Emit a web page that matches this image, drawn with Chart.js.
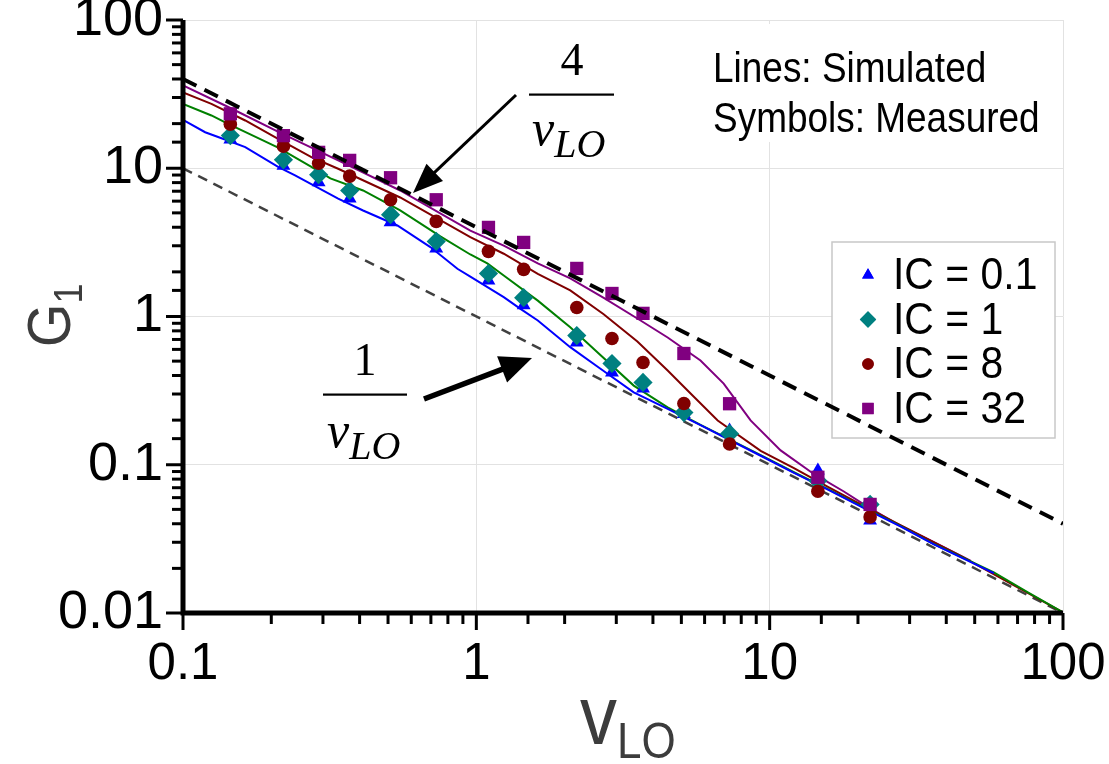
<!DOCTYPE html>
<html>
<head>
<meta charset="utf-8">
<script src="https://cdn.jsdelivr.net/npm/chart.js@4.4.1/dist/chart.umd.min.js"></script>
<style>
  html, body { margin: 0; padding: 0; background: #fff; }
  #plot { display: block; }
</style>
</head>
<body>
<canvas id="plot" width="1109" height="764"></canvas>
<script>
// ── Measured points (symbols), shared LO amplitudes ─────────
const vMeas    = [0.145, 0.22, 0.29, 0.37, 0.51, 0.73, 1.1, 1.45, 2.2, 2.9, 3.7, 5.1, 7.3, 14.6, 22];
const measIC01 = [15.6, 10.4, 8.06, 6.25, 4.33, 2.88, 1.75, 1.19, 0.668, 0.419, 0.327, 0.22, 0.17, 0.0914, 0.042];
const measIC1  = [16.6, 11.4, 9.04, 7.08, 4.86, 3.21, 1.95, 1.34, 0.744, 0.482, 0.359, 0.225, 0.162, 0.078, 0.054];
const measIC8  = [19.8, 14.1, 10.8, 8.85, 6.13, 4.38, 2.75, 2.08, 1.15, 0.711, 0.489, 0.259, 0.138, 0.0663, 0.0445];
const measIC32 = [23.3, 16.6, 12.8, 11.3, 8.63, 6.13, 3.99, 3.16, 2.11, 1.43, 1.05, 0.563, 0.258, 0.0823, 0.054];

// ── Simulated curves (lines) ─────────────────────────────────
const vSimIC01 = [0.1, 0.119, 0.142, 0.163, 0.211, 0.241, 0.338, 0.411, 0.538, 0.697, 0.862, 0.954, 1.24, 1.41, 1.62, 2.09, 2.65, 3.44, 4.49, 5.81, 9.32, 12.1, 15.8, 21.6, 28, 36.3, 58.1];
const gSimIC01 = [21.2, 17.5, 15.4, 13.9, 10.2, 8.94, 6.23, 5.19, 4.11, 2.94, 2.1, 1.86, 1.35, 1.13, 0.94, 0.621, 0.444, 0.308, 0.238, 0.185, 0.115, 0.088, 0.068, 0.0495, 0.0382, 0.029, 0.0186];

const vSimIC1 = [0.1, 0.125, 0.142, 0.185, 0.211, 0.274, 0.318, 0.411, 0.55, 0.754, 0.954, 1.09, 1.24, 1.62, 2.09, 2.51, 3.44, 4.49, 5.81, 9.32, 12.1, 15.8, 21.6, 28, 36.3, 58.1, 75.9, 100];
const gSimIC1 = [27.2, 22.7, 20.0, 15.6, 13.8, 10.2, 8.54, 7.08, 5.19, 3.47, 2.62, 2.28, 1.89, 1.28, 0.847, 0.605, 0.342, 0.244, 0.186, 0.116, 0.089, 0.0685, 0.05, 0.0385, 0.0292, 0.0188, 0.0138, 0.0101];

const vSimIC8 = [0.1, 0.125, 0.163, 0.211, 0.274, 0.338, 0.55, 0.954, 1.24, 1.62, 2.09, 2.71, 3.54, 4.49, 5.25, 6.65, 9.32, 12.1, 15.8, 21.6, 28, 44.9, 66.4, 100];
const gSimIC8 = [32.5, 27.2, 21.0, 15.8, 11.9, 9.92, 6.35, 3.43, 2.65, 1.94, 1.5, 1.04, 0.678, 0.432, 0.317, 0.199, 0.124, 0.095, 0.071, 0.051, 0.039, 0.0242, 0.0158, 0.0101];

const vSimIC32 = [0.1, 0.145, 0.214, 0.338, 0.55, 0.954, 1.24, 1.62, 2.09, 2.71, 3.63, 4.49, 5.81, 6.97, 8.61, 10.9, 14.1, 17.9, 21.6, 26.5, 36.3, 48.5];
const gSimIC32 = [36.2, 25.5, 17.4, 11.3, 7.08, 3.8, 3.01, 2.28, 1.81, 1.34, 0.94, 0.722, 0.505, 0.353, 0.199, 0.125, 0.087, 0.066, 0.052, 0.041, 0.03, 0.0225];

// ── Reference asymptotes 4/vLO and 1/vLO (end points) ───────
const vRef  = [0.1, 100];
const gRef4 = [40, 0.04];
const gRef1 = [10, 0.01];

const xTickLabels  = ['0.1', '1', '10', '100'];
const yTickLabels  = ['0.01', '0.1', '1', '10', '100'];
const legendLabels = ['IC = 0.1', 'IC = 1', 'IC = 8', 'IC = 32'];

const pts = (xs, ys) => xs.map((x, i) => ({ x, y: ys[i] }));
const isDecade = (v) => Math.abs(Math.log10(v) - Math.round(Math.log10(v))) < 1e-6;

const SANS  = '"Liberation Sans", Arial, sans-serif';
const SERIF = '"Liberation Serif", "Times New Roman", serif';

function simLine(data, color, order) {
  return { type: 'line', data, borderColor: color, borderWidth: 2, pointRadius: 0,
           fill: false, tension: 0, order };
}
function measured(label, data, style, radius, color, order) {
  return { type: 'scatter', label, data, pointStyle: style, pointRadius: radius,
           pointHoverRadius: radius, backgroundColor: color, borderColor: color,
           pointBorderWidth: 0, showLine: false, order };
}

const datasets = [
  { type: 'line', data: pts(vRef, gRef4), borderColor: '#000', borderWidth: 4,
    borderDash: [15, 9], pointRadius: 0, order: 0 },
  measured(legendLabels[3], pts(vMeas, measIC32), 'rect',     9.4, '#800080', 1),
  measured(legendLabels[2], pts(vMeas, measIC8),  'circle',   6.8, '#800000', 2),
  measured(legendLabels[1], pts(vMeas, measIC1),  'rectRot',  9.6, '#008080', 3),
  measured(legendLabels[0], pts(vMeas, measIC01), 'triangle', 8.0, '#0000ff', 4),
  simLine(pts(vSimIC01, gSimIC01), '#0000ff', 5),
  simLine(pts(vSimIC1,  gSimIC1),  '#008000', 6),
  simLine(pts(vSimIC8,  gSimIC8),  '#800000', 7),
  simLine(pts(vSimIC32, gSimIC32), '#800080', 8),
  { type: 'line', data: pts(vRef, gRef1), borderColor: '#404040', borderWidth: 2.5,
    borderDash: [10, 7], pointRadius: 0, order: 9 },
];

// text with a subscript, optional horizontal squeeze
function subText(ctx, x, y, main, sub, mainFont, subFont, drop, squeeze = 1) {
  ctx.save();
  ctx.translate(x, y);
  ctx.scale(squeeze, 1);
  ctx.textAlign = 'left';
  ctx.textBaseline = 'alphabetic';
  ctx.font = mainFont;
  ctx.fillText(main, 0, 0);
  const w = ctx.measureText(main).width;
  ctx.font = subFont;
  ctx.fillText(sub, w, drop);
  ctx.restore();
}

function arrow(ctx, x1, y1, x2, y2, width, headLen, headHalf) {
  const a = Math.atan2(y2 - y1, x2 - x1);
  const bx = x2 - Math.cos(a) * headLen, by = y2 - Math.sin(a) * headLen;
  ctx.save();
  ctx.strokeStyle = '#000';
  ctx.fillStyle = '#000';
  ctx.lineWidth = width;
  ctx.beginPath();
  ctx.moveTo(x1, y1);
  ctx.lineTo(bx + Math.cos(a) * 2, by + Math.sin(a) * 2);
  ctx.stroke();
  ctx.beginPath();
  ctx.moveTo(x2, y2);
  ctx.lineTo(bx + Math.sin(a) * headHalf, by - Math.cos(a) * headHalf);
  ctx.lineTo(bx - Math.sin(a) * headHalf, by + Math.cos(a) * headHalf);
  ctx.closePath();
  ctx.fill();
  ctx.restore();
}

function fraction(ctx, cx, numY, barY, barL, barR, denX, denY, num) {
  ctx.save();
  ctx.fillStyle = '#000';
  ctx.font = '46px ' + SERIF;
  ctx.textAlign = 'center';
  ctx.fillText(num, cx, numY);
  ctx.fillRect(barL, barY - 1, barR - barL, 2.2);
  subText(ctx, denX, denY, 'v', 'LO', 'italic 50px ' + SERIF, 'italic 40px ' + SERIF, 12);
  ctx.restore();
}

// white panels for the notes and the symbol key (under the data)
const notesPlugin = {
  id: 'notes',
  beforeDatasetsDraw(chart) {
    const ctx = chart.ctx;
    ctx.save();
    ctx.fillStyle = '#fff';
    ctx.fillRect(700, 24, 358, 118);
    ctx.fillStyle = '#000';
    ctx.font = '42px ' + SANS;
    ctx.textAlign = 'left';
    ctx.save(); ctx.translate(713, 82); ctx.scale(0.88, 1); ctx.fillText('Lines: Simulated', 0, 0); ctx.restore();
    ctx.save(); ctx.translate(713, 132); ctx.scale(0.88, 1); ctx.fillText('Symbols: Measured', 0, 0); ctx.restore();

    // symbol key
    const bx = 832, by = 242, bw = 223, bh = 196;
    ctx.fillStyle = '#fff';
    ctx.fillRect(bx, by, bw, bh);
    ctx.strokeStyle = '#c8c8c8';
    ctx.lineWidth = 1.5;
    ctx.strokeRect(bx, by, bw, bh);
    const keyOrder = [4, 3, 2, 1];
    keyOrder.forEach((di, row) => {
      const ds = chart.data.datasets[di];
      const y = 275 + row * 44.5;
      ctx.fillStyle = ds.backgroundColor;
      ctx.beginPath();
      Chart.helpers.drawPoint(ctx, {
        pointStyle: ds.pointStyle, radius: ds.pointRadius * 0.85, borderWidth: 0, rotation: 0
      }, 868, y);
      ctx.fill();
      ctx.fillStyle = '#000';
      ctx.font = '44px ' + SANS;
      ctx.textBaseline = 'middle';
      ctx.save(); ctx.translate(893, y + 2); ctx.scale(0.93, 1); ctx.fillText(ds.label, 0, 0); ctx.restore();
    });
    ctx.restore();
  },
  afterDatasetsDraw(chart) {
    const ctx = chart.ctx;
    const { x, y } = chart.scales;
    ctx.save();
    // axis lines
    ctx.strokeStyle = '#000';
    ctx.lineWidth = 5;
    ctx.beginPath();
    ctx.moveTo(x.left, y.top);
    ctx.lineTo(x.left, y.bottom);
    ctx.lineTo(x.right, y.bottom);
    ctx.stroke();
    // outward tick marks, longer at decades
    ctx.lineWidth = 3;
    x.ticks.forEach((t) => {
      const px = x.getPixelForValue(t.value);
      const len = isDecade(t.value) ? 17 : 11;
      ctx.beginPath(); ctx.moveTo(px, y.bottom); ctx.lineTo(px, y.bottom + len); ctx.stroke();
    });
    y.ticks.forEach((t) => {
      const py = y.getPixelForValue(t.value);
      const len = isDecade(t.value) ? 17 : 11;
      ctx.beginPath(); ctx.moveTo(x.left, py); ctx.lineTo(x.left - len, py); ctx.stroke();
    });
    // axis titles
    ctx.fillStyle = '#3c3c3c';
    ctx.save();
    ctx.translate(70, 347);
    ctx.rotate(-Math.PI / 2);
    subText(ctx, 0, 0, 'G', '1', '62px ' + SANS, '40px ' + SANS, 12, 0.9);
    ctx.restore();
    subText(ctx, 580, 744, 'v', 'LO', '84px ' + SANS, '50px ' + SANS, 14, 0.88);

    // asymptote annotations
    fraction(ctx, 572, 75, 94.5, 529, 614, 532, 145, '4');
    fraction(ctx, 365, 375, 394.5, 323, 407, 327, 447, '1');
    arrow(ctx, 516, 95, 413, 193, 3, 30, 12);
    arrow(ctx, 424, 399, 532, 358, 5.5, 32, 14);
    ctx.restore();
  }
};

const logAxis = (min, max, labels, offset, size) => ({
  type: 'logarithmic',
  min, max,
  border: { display: false },
  grid: {
    drawTicks: false,
    lineWidth: 1,
    color: (c) => (c.tick && isDecade(c.tick.value) ? '#e2e2e2' : 'rgba(0,0,0,0)'),
  },
  ticks: {
    autoSkip: false,
    maxRotation: 0,
    color: '#000',
    font: { family: SANS, size },
    callback: (v) => (isDecade(v) ? labels[Math.round(Math.log10(v)) + offset] : ''),
  },
});

const xAxis = logAxis(0.1, 100, xTickLabels, 1, 51);
xAxis.ticks.padding = 21;
xAxis.afterFit = (s) => { s.height = 151; s.paddingLeft = 0; s.paddingRight = 0; };
const yAxis = logAxis(0.01, 100, yTickLabels, 2, 54);
yAxis.ticks.padding = 20;
yAxis.afterFit = (s) => { s.width = 183; s.paddingTop = 0; s.paddingBottom = 0; };

new Chart(document.getElementById('plot'), {
  data: { datasets },
  plugins: [notesPlugin],
  options: {
    responsive: false,
    animation: false,
    devicePixelRatio: 1,
    layout: { padding: { top: 20, right: 46, left: 0, bottom: 0 } },
    plugins: { legend: { display: false }, tooltip: { enabled: false } },
    scales: { x: xAxis, y: yAxis },
  },
});
</script>
</body>
</html>
